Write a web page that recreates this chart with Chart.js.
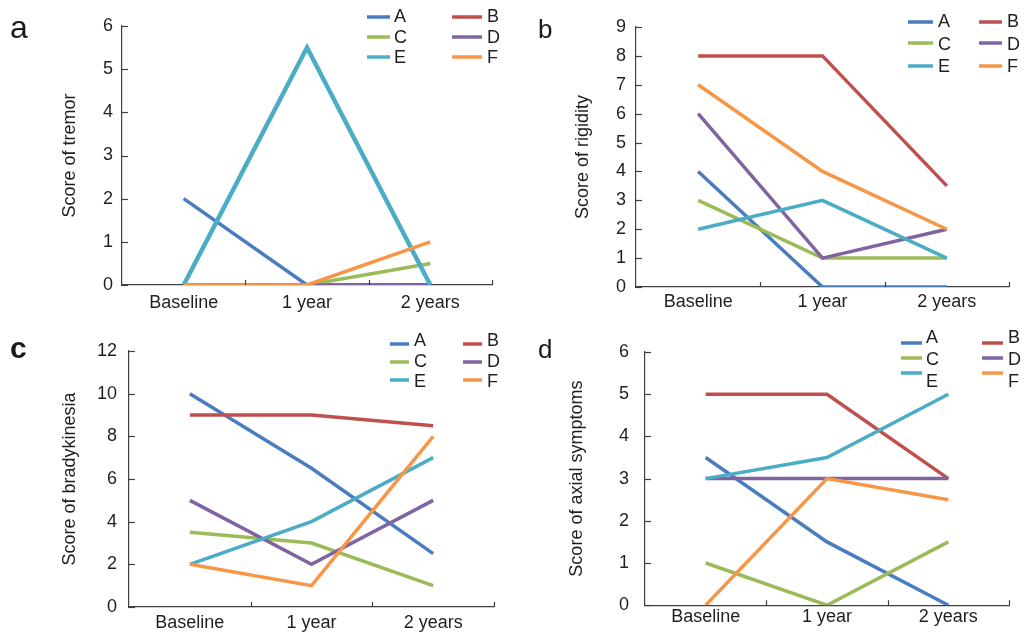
<!DOCTYPE html>
<html>
<head>
<meta charset="utf-8">
<script src="https://cdn.jsdelivr.net/npm/chart.js@4.4.1/dist/chart.umd.min.js"></script>
<style>
  html, body { margin: 0; padding: 0; background: #fff; }
  body { width: 1033px; height: 632px; position: relative; overflow: hidden; font-family: "Liberation Sans", Arial, sans-serif; }
  .panel { position: absolute; }
  .tag { position: absolute; color: #1a1a1a; line-height: 1; }
</style>
</head>
<body>
<div class="panel" style="left:0;top:0"><canvas id="tremorChart" width="516" height="316"></canvas></div>
<div class="panel" style="left:516px;top:0"><canvas id="rigidityChart" width="517" height="316"></canvas></div>
<div class="panel" style="left:0;top:316px"><canvas id="bradyChart" width="516" height="316"></canvas></div>
<div class="panel" style="left:516px;top:316px"><canvas id="axialChart" width="517" height="316"></canvas></div>
<div class="tag" style="left:10px;top:11px;font-size:32px">a</div>
<div class="tag" style="left:538px;top:16px;font-size:26px">b</div>
<div class="tag" style="left:10px;top:333px;font-size:30px;font-weight:bold">c</div>
<div class="tag" style="left:538px;top:336px;font-size:26px">d</div>
<script>
// Shared categories and patients
const timepoints = ['Baseline', '1 year', '2 years'];
const patients = ['A', 'B', 'C', 'D', 'E', 'F'];

// Scores per patient (A..F), one row per patient: baseline, 1 year, 2 years
const tremorScores = [
  [2, 0, 0],
  [0, 0, 0],
  [0, 0, 0.5],
  [0, 0, 0],
  [0, 5.5, 0],
  [0, 0, 1]
];
const rigidityScores = [
  [4, 0, 0],
  [8, 8, 3.5],
  [3, 1, 1],
  [6, 1, 2],
  [2, 3, 1],
  [7, 4, 2]
];
const bradykinesiaScores = [
  [10, 6.5, 2.5],
  [9, 9, 8.5],
  [3.5, 3, 1],
  [5, 2, 5],
  [2, 4, 7],
  [2, 1, 8]
];
const axialScores = [
  [3.5, 1.5, 0],
  [5, 5, 3],
  [1, 0, 1.5],
  [3, 3, 3],
  [3, 3.5, 5],
  [0, 3, 2.5]
];

// y-axis ranges
const tremorMax = 6, tremorStep = 1;
const rigidityMax = 9, rigidityStep = 1;
const bradyMax = 12, bradyStep = 2;
const axialMax = 6, axialStep = 1;

const seriesColors = ['#4a7cc0', '#c0504d', '#9bbb59', '#8064a2', '#4bacc6', '#f79646'];
const AXIS_COLOR = '#404040';
const TEXT_COLOR = '#1f1f1f';
const FONT = '"Liberation Sans", Arial, sans-serif';

// inward tick marks + two-column legend drawn over the plot
const decorPlugin = {
  id: 'decor',
  afterDraw(chart, args, opts) {
    const ctx = chart.ctx;
    const xs = chart.scales.x, ys = chart.scales.y;
    const area = chart.chartArea;
    ctx.save();
    ctx.strokeStyle = AXIS_COLOR;
    ctx.lineWidth = 1.2;
    ys.ticks.forEach(t => {
      const py = Math.round(ys.getPixelForValue(t.value)) + 0.5;
      ctx.beginPath();
      ctx.moveTo(area.left, py);
      ctx.lineTo(area.left + 6, py);
      ctx.stroke();
    });
    for (let i = 1; i <= timepoints.length; i++) {
      const px = Math.round(xs.getPixelForValue(i - 0.5)) + 0.5;
      ctx.beginPath();
      ctx.moveTo(px, area.bottom);
      ctx.lineTo(px, area.bottom - 5);
      ctx.stroke();
    }

    const lg = opts.legend;
    ctx.font = '18px ' + FONT;
    ctx.textBaseline = 'middle';
    ctx.fillStyle = TEXT_COLOR;
    chart.data.datasets.forEach((ds, i) => {
      const col = lg.cols[i % 2];
      const row = Math.floor(i / 2);
      ctx.strokeStyle = ds.borderColor;
      ctx.lineWidth = 3.5;
      ctx.beginPath();
      ctx.moveTo(col.line[0], lg.lineY[row]);
      ctx.lineTo(col.line[1], lg.lineY[row]);
      ctx.stroke();
      ctx.fillText(ds.label, col.text, lg.textY[row]);
    });
    ctx.restore();
  }
};

function buildChart(id, scores, yMax, yStep, title, box, legend) {
  const canvas = document.getElementById(id);
  const W = canvas.width, H = canvas.height;
  return new Chart(canvas, {
    type: 'line',
    data: {
      labels: timepoints,
      datasets: patients.map((p, i) => ({
        label: p,
        data: scores[i],
        borderColor: seriesColors[i],
        backgroundColor: seriesColors[i],
        borderWidth: (box.widths && box.widths[i]) || 3.5,
        pointRadius: 0,
        tension: 0,
        order: patients.length - i
      }))
    },
    options: {
      responsive: false,
      animation: false,
      events: [],
      layout: { padding: { left: 0, top: box.top, right: W - box.right, bottom: 0 } },
      plugins: {
        legend: { display: false },
        tooltip: { enabled: false },
        decor: { legend: legend }
      },
      scales: {
        x: {
          type: 'category',
          offset: true,
          grid: { offset: true, drawOnChartArea: false, drawTicks: false },
          border: { color: AXIS_COLOR, width: 1.2 },
          ticks: {
            color: TEXT_COLOR,
            font: { family: FONT, size: 18 },
            padding: box.xPad,
            maxRotation: 0,
            autoSkip: false
          },
          afterFit: s => { s.height = H - box.bottom; }
        },
        y: {
          min: 0,
          max: yMax,
          grid: { drawOnChartArea: false, drawTicks: false },
          border: { color: AXIS_COLOR, width: 1.2 },
          ticks: {
            stepSize: yStep,
            color: TEXT_COLOR,
            font: { family: FONT, size: 18 },
            padding: box.yPad
          },
          title: {
            display: true,
            text: title,
            color: TEXT_COLOR,
            font: { family: FONT, size: 18 },
            padding: { top: box.titleX - 10.8, bottom: 0 }
          },
          afterFit: s => { s.width = box.left; }
        }
      }
    },
    plugins: [decorPlugin]
  });
}

buildChart('tremorChart', tremorScores, tremorMax, tremorStep, 'Score of tremor',
  { left: 122, right: 492, top: 26, bottom: 285, xPad: 7, yPad: 9, titleX: 70, widths: [3.5, 3.5, 3.5, 3.5, 4.5, 3.5] },
  { cols: [{ line: [367, 390], text: 394 }, { line: [452, 482], text: 487 }], lineY: [17, 37, 57], textY: [17, 38, 58] });

buildChart('rigidityChart', rigidityScores, rigidityMax, rigidityStep, 'Score of rigidity',
  { left: 120, right: 493, top: 27, bottom: 287, xPad: 4, yPad: 10, titleX: 67 },
  { cols: [{ line: [392, 417], text: 422 }, { line: [463, 486], text: 491 }], lineY: [22, 43, 66], textY: [22, 45, 67] });

buildChart('bradyChart', bradykinesiaScores, bradyMax, bradyStep, 'Score of bradykinesia',
  { left: 129, right: 494, top: 35, bottom: 291, xPad: 5, yPad: 12, titleX: 70 },
  { cols: [{ line: [390, 409], text: 414 }, { line: [463, 482], text: 487 }], lineY: [28, 46, 64], textY: [25, 46, 66] });

buildChart('axialChart', axialScores, axialMax, axialStep, 'Score of axial symptoms',
  { left: 129, right: 493, top: 36, bottom: 295, xPad: 1, yPad: 16, titleX: 61 },
  { cols: [{ line: [385, 406], text: 410 }, { line: [466, 487], text: 492 }], lineY: [27, 42, 57], textY: [22, 44, 66] });
</script>
</body>
</html>
